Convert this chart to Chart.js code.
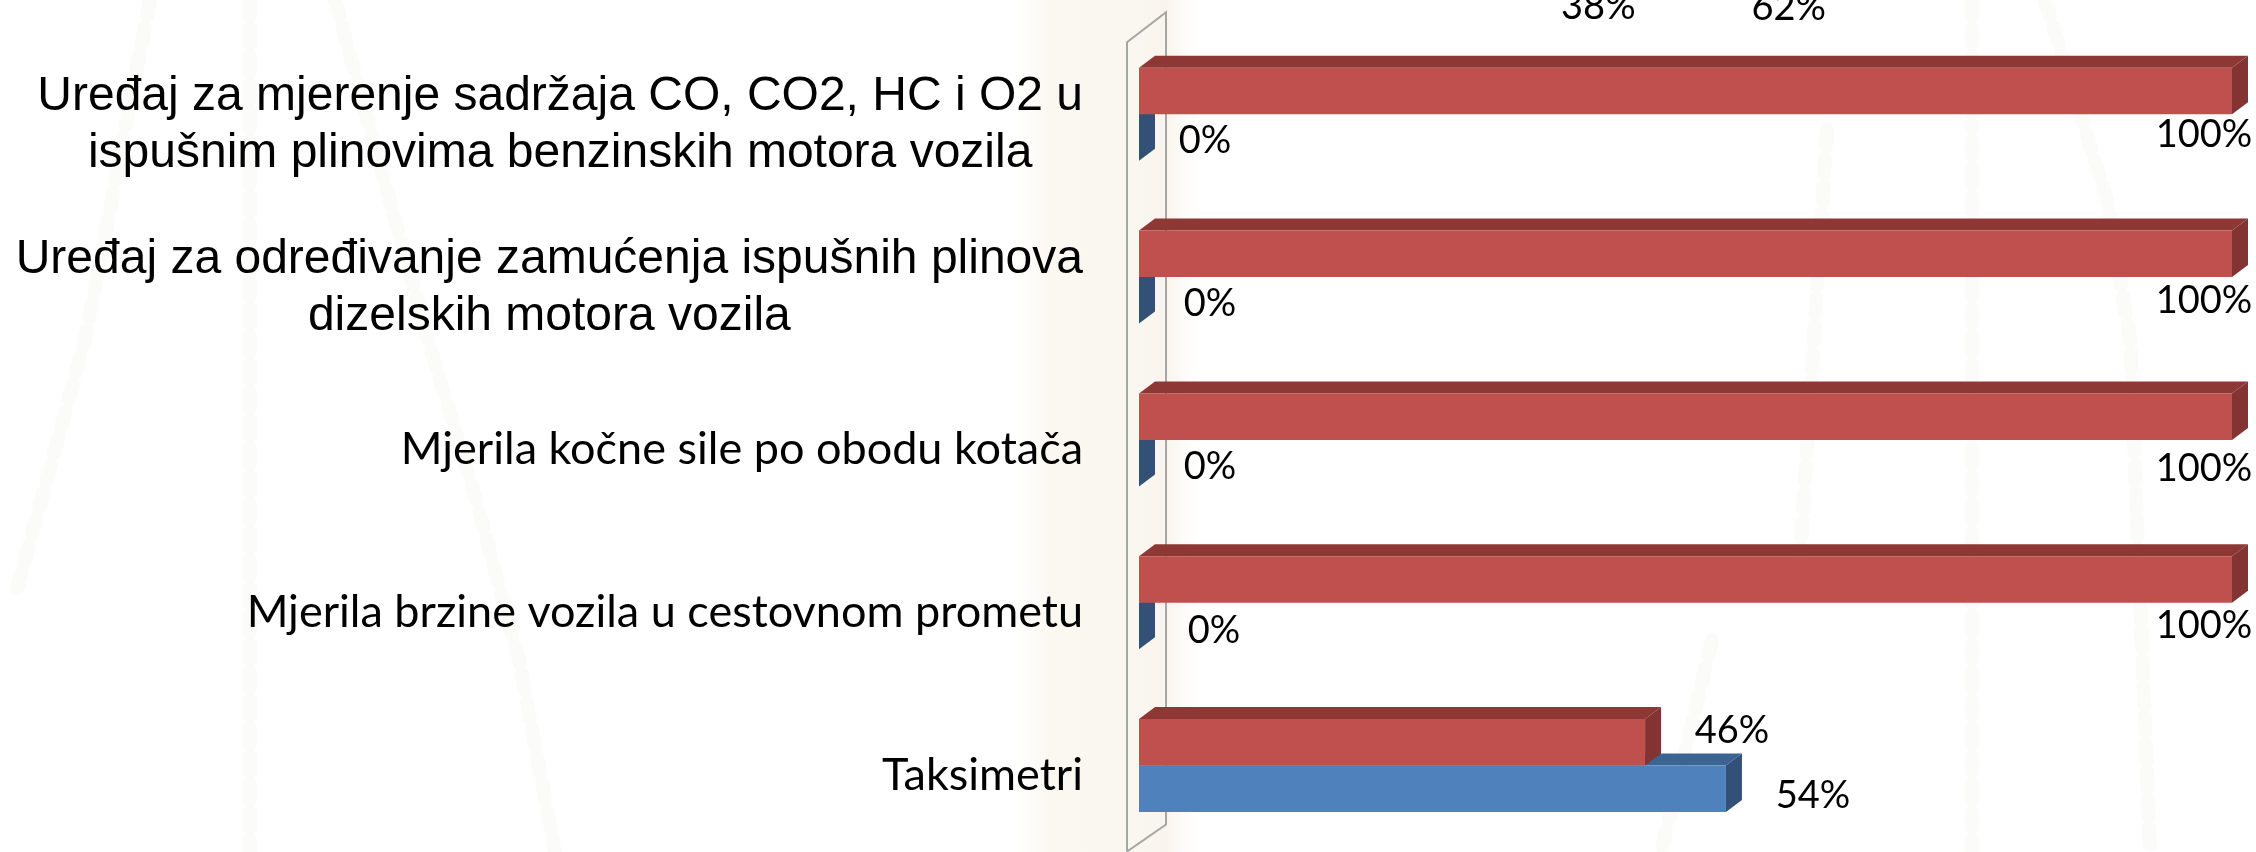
<!DOCTYPE html>
<html>
<head>
<meta charset="utf-8">
<title>Mjerila</title>
<script src="https://cdn.jsdelivr.net/npm/chart.js@4"></script>
<style>
  html, body { margin: 0; padding: 0; width: 2256px; height: 852px; overflow: hidden; }
  body {
    background: linear-gradient(90deg, #ffffff 0, #ffffff 1015px, #fbf8f2 1050px, #faf6f0 1130px, #f9f5ee 1166px, #fdfcfa 1185px, #ffffff 1200px);
  }
  #marks { position: absolute; left: 0; top: 0; }
  #chart { display: block; position: relative; margin-top: -200px; }
</style>
</head>
<body>
<!-- faint chains of the slide background -->
<svg id="marks" width="2256" height="852" fill="none" stroke="#fbfbfa" stroke-width="14" stroke-dasharray="16 12" stroke-linecap="round">
  <path d="M150 0 L85 340 L14 600"/>
  <path d="M250 0 V852"/>
  <path d="M335 0 L428 340 L476 500 L519 660 L555 852"/>
  <path d="M1972 0 V852"/>
  <path d="M2045 0 L2107 200 L2130 340 L2150 852"/>
  <path d="M1712 640 L1661 852"/>
  <path d="M1827 130 L1800 560"/>
</svg>
<canvas id="chart" width="2256" height="1052"></canvas>
<script>
// first row is cut off by the top of the picture, only its labels show
const categories = [
  "",
  ["Uređaj za mjerenje sadržaja CO, CO2, HC i O2 u", "ispušnim plinovima benzinskih motora vozila"],
  ["Uređaj za određivanje zamućenja ispušnih plinova", "dizelskih motora vozila"],
  ["Mjerila kočne sile po obodu kotača"],
  ["Mjerila brzine vozila u cestovnom prometu"],
  ["Taksimetri"]
];
const redValues = [38, 100, 100, 100, 100, 46.3];
const blueValues = [62, 0, 0, 0, 0, 53.7];

// labels were moved by hand in the original, so each one has a nudge
const redNudge = [[44, 79], [-28, 44], [-28, 47], [-28, 52], [-28, 46], [87, -12]];
const blueNudge = [[-28, 33], [66, 3], [71, 3], [71, 4], [75, 5], [87, 7]];

const armFont = "48px 'Liberation Sans'";
const calFont = "45px Lato";
const valueFont = "38px Lato";
const depthX = 16;
const depthY = 12;

const wall = {
  id: "wall",
  beforeDatasetsDraw(chart) {
    const { ctx, chartArea, scales } = chart;
    const l = chartArea.left - 12;
    const r = chartArea.left + 27;
    const top = scales.y.getPixelForValue(1) - 72;
    const bottom = scales.y.getPixelForValue(5) + 86;
    ctx.save();
    ctx.strokeStyle = "#a6a6a6";
    ctx.lineWidth = 2;
    ctx.beginPath();
    ctx.moveTo(l, bottom);
    ctx.lineTo(l, top);
    ctx.lineTo(r, top - 30);
    ctx.lineTo(r, bottom - 27);
    ctx.lineTo(l, bottom);
    ctx.stroke();
    ctx.restore();
  }
};

const faces = [
  { top: "#8e3836", side: "#833331" },
  { top: "#3c6492", side: "#325078" }
];

// top and side of the bars, Chart.js only has the front
const bar3d = {
  id: "bar3d",
  beforeDatasetDraw(chart, args) {
    const { ctx } = chart;
    const c = faces[args.index];
    ctx.save();
    chart.getDatasetMeta(args.index).data.forEach((bar) => {
      const p = bar.getProps(["x", "y", "base", "height"], true);
      const top = p.y - p.height / 2;
      const bottom = p.y + p.height / 2;
      ctx.fillStyle = c.top;
      ctx.beginPath();
      ctx.moveTo(p.base, top);
      ctx.lineTo(p.base + depthX, top - depthY);
      ctx.lineTo(p.x + depthX, top - depthY);
      ctx.lineTo(p.x, top);
      ctx.fill();
      ctx.fillStyle = c.side;
      ctx.beginPath();
      ctx.moveTo(p.x, top);
      ctx.lineTo(p.x + depthX, top - depthY);
      ctx.lineTo(p.x + depthX, bottom - depthY);
      ctx.lineTo(p.x, bottom);
      ctx.fill();
    });
    ctx.restore();
  }
};

const texts = {
  id: "texts",
  afterDatasetsDraw(chart) {
    const { ctx, scales } = chart;
    ctx.save();
    ctx.fillStyle = "#000";
    ctx.textBaseline = "middle";

    // category labels, two line ones are centred in their block
    categories.forEach((lines, i) => {
      if (!lines.length) return;
      const y = scales.y.getPixelForValue(i) + (lines.length > 1 ? 11 : 10);
      ctx.font = lines.length > 1 ? armFont : calFont;
      const widest = Math.max(...lines.map((s) => ctx.measureText(s).width));
      ctx.textAlign = "center";
      lines.forEach((s, k) => {
        ctx.fillText(s, 1083 - widest / 2, y + (k - (lines.length - 1) / 2) * 57);
      });
    });

    // value labels
    ctx.font = valueFont;
    ctx.textAlign = "center";
    [redNudge, blueNudge].forEach((nudge, d) => {
      chart.getDatasetMeta(d).data.forEach((bar, i) => {
        const v = chart.data.datasets[d].data[i];
        ctx.fillText(Math.round(v) + "%", bar.x + nudge[i][0], bar.y + nudge[i][1]);
      });
    });
    ctx.restore();
  }
};

new Chart(document.getElementById("chart"), {
  type: "bar",
  data: {
    labels: categories,
    datasets: [
      { data: redValues, backgroundColor: "#c0504d", borderWidth: 0 },
      { data: blueValues, backgroundColor: "#4f81bd", borderWidth: 0 }
    ]
  },
  options: {
    indexAxis: "y",
    responsive: false,
    animation: false,
    events: [],
    layout: { padding: { left: 1139, right: 24, top: 70, bottom: 5 } },
    datasets: { bar: { categoryPercentage: 0.571, barPercentage: 1 } },
    plugins: { legend: { display: false }, tooltip: { enabled: false } },
    scales: {
      x: { display: false, min: 0, max: 100 },
      y: { display: false }
    }
  },
  plugins: [wall, bar3d, texts]
});
</script>
</body>
</html>
